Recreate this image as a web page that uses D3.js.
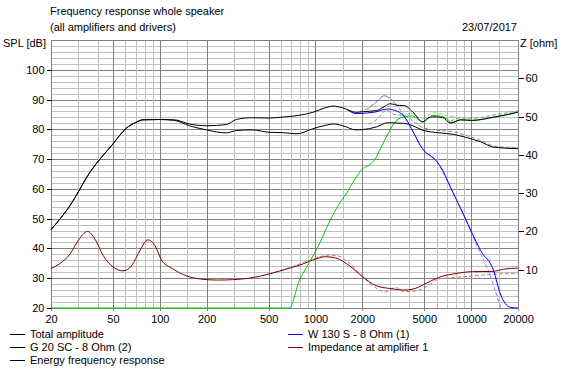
<!DOCTYPE html>
<html>
<head>
<meta charset="utf-8">
<script src="https://cdn.jsdelivr.net/npm/d3@7"></script>
<style>
  body { margin: 0; background: #fff; }
  text { font-family: "Liberation Sans", Arial, sans-serif; font-size: 11px; fill: #000; }
</style>
</head>
<body>
<div id="chart"></div>
<script>

// ticks
var freqTicks = [20, 50, 100, 200, 500, 1000, 2000, 5000, 10000, 20000];
var freqMinor = [30, 40, 60, 70, 80, 90, 150, 300, 400, 600, 700, 800, 900,
                 1500, 3000, 4000, 6000, 7000, 8000, 9000, 15000];
var splTicks = [20, 30, 40, 50, 60, 70, 80, 90, 100];
var zTicks = [10, 20, 30, 40, 50, 60];

// [Hz, dB]
var totalAmp = [[20,46.3],[26.5,54.4],[35.6,65.6],[50,75.1],[61,80.4],[70,82.3],[78,83.2],[100,83.3],
  [124,83.2],[155,81.8],[200,81.2],[267,81.6],[310,83.3],[393,83.9],[505,83.8],[610,84.1],[760,84.6],
  [962,85.7],[1150,87.2],[1300,87.8],[1500,87.2],[1826,85.7],[2000,85.9],[2460,86.3],[2800,87.8],
  [3000,88.6],[3470,88.0],[3690,88.0],[4210,85.9],[4880,82.5],[5300,83.8],[5660,84.2],[6560,84.0],
  [7370,82.1],[8560,83.2],[10100,83.0],[14000,84.1],[19700,85.7],[20000,85.8]];

var energyResp = [[20,46.3],[26.5,54.4],[35.6,65.6],[50,75.1],[61,80.4],[70,82.3],[78,83.2],[100,83.3],
  [124,83.0],[155,81.2],[200,79.8],[267,78.8],[310,79.6],[393,79.8],[505,79.0],[610,78.9],[760,78.5],
  [962,80.2],[1150,81.3],[1300,81.8],[1500,81.2],[1826,79.8],[2000,79.9],[2460,80.8],[2900,82.2],
  [3690,82.0],[4230,81.2],[4880,79.7],[6300,78.8],[7700,78.3],[9250,77.3],[11500,75.8],[14000,74.0],
  [20000,73.5]];

var woofer = [[1600,86.6],[1826,85.3],[2410,85.8],[2890,86.8],[3350,86.1],[3800,83.6],[4230,79.2],
  [4880,73.4],[5500,71.0],[5880,69.8],[6600,66.0],[7300,61.0],[9000,51.0],[11500,39.3],[14000,32.3],
  [15300,25.2],[17900,20.2],[20000,20]];

var tweeter = [[20,20],[680,20],[787,29.2],[913,35.3],[1058,41.5],[1226,48.8],[1420,55.0],[1600,58.9],
  [1770,62.8],[2000,66.7],[2270,68.4],[2450,70.5],[2610,73.5],[2890,78.0],[3200,82.0],[3690,84.2],
  [4220,84.5],[4880,82.5],[5700,84.7],[7000,83.6],[7400,82.3],[8560,83.2],[10100,83.0],[14000,84.1],
  [20000,85.8]];

// [Hz, ohm]
var impedance = [[20,10.3],[22.8,11.6],[26.5,14.1],[29.9,17.6],[34.3,20.0],[38.3,18.0],[43.3,13.7],
  [50.6,10.6],[58.1,9.7],[65.8,11.0],[74.5,15.0],[83.8,17.8],[93,16.3],[102.6,12.5],[121.6,10.2],
  [148,8.4],[180,7.6],[231,7.3],[294,7.4],[377,7.8],[506,8.9],[680,10.4],[830,11.5],[1000,12.8],
  [1170,13.4],[1350,13.05],[1660,11.0],[2000,8.2],[2460,5.8],[3000,5.1],[3800,4.7],[4570,5.4],
  [5000,6.2],[5600,7.2],[6200,8.0],[8000,9.0],[10200,9.5],[13650,9.55],[16500,10.2],[19800,10.4],
  [20000,10.4]];

// previous simulation (dashed)
var prevUpper = [[1900,85.9],[2150,87.0],[2500,89.5],[2740,91.3],[3000,90.6],[3350,88.1],[3700,88.0]];
var prevLower = [[2200,81.6],[2500,83.5],[2850,86.4],[3200,85.0],[3700,84.7],[4300,82.5],[4880,80.6],
  [6300,79.6],[7700,79.2],[9250,78.0],[11500,76.3],[14000,74.4],[20000,73.8]];
var prevTotalHi = [[7400,82.8],[8560,83.8],[10100,83.7],[14000,84.8],[20000,86.2]];
var prevWoofer = [[2150,86.5],[2500,89.5],[2750,91.2],[3000,90.5],[3350,88.0],[3700,84.5],[4200,79.6],
  [4880,73.4],[5880,69.8],[7300,61.0],[9000,51.0],[11000,40.5],[13000,32.0],[15500,20]];
var prevTweeter = [[3300,82.8],[3700,85.0],[4200,85.3],[4880,83.6],[5700,85.6],[7000,84.6],[8000,84.2]];
var prevImpedance = [[500,8.9],[700,10.7],[1000,13.0],[1200,13.8],[1400,13.6],[1700,11.2],[2000,8.3],
  [2500,5.0],[2800,4.2],[3300,5.4],[3600,4.4],[4000,4.3],[4570,4.6],[5200,5.6],[6200,7.6],[8000,8.0],
  [10200,8.4],[13650,8.8],[20000,9.1]];


var W = 563, H = 371;
var pLeft = 51, pRight = 518, pTop = 40, pBottom = 308;

var svg = d3.select("#chart").append("svg")
    .attr("width", W)
    .attr("height", H);

var x = d3.scaleLog().domain([20, 20000]).range([pLeft, pRight]);
var y = d3.scaleLinear().domain([20, 110]).range([pBottom, pTop]).clamp(true);
var z = d3.scaleLinear().domain([0, 70]).range([pBottom, pTop]).clamp(true);

// ****************** grid ***************************
var grid = svg.append("g").attr("shape-rendering", "crispEdges");

d3.range(22, 110, 2).forEach(function(v){
  grid.append("line")
      .attr("x1", pLeft).attr("x2", pRight)
      .attr("y1", Math.round(y(v)) + 0.5).attr("y2", Math.round(y(v)) + 0.5)
      .attr("stroke", v % 10 == 0 ? "#808080" : "#c0c0c0");
});

freqMinor.forEach(function(f){
  grid.append("line")
      .attr("x1", Math.round(x(f)) + 0.5).attr("x2", Math.round(x(f)) + 0.5)
      .attr("y1", pTop).attr("y2", pBottom)
      .attr("stroke", "#c0c0c0");
});

freqTicks.forEach(function(f){
  grid.append("line")
      .attr("x1", Math.round(x(f)) + 0.5).attr("x2", Math.round(x(f)) + 0.5)
      .attr("y1", pTop).attr("y2", pBottom + 3)
      .attr("stroke", "#808080");
});

grid.append("rect")
    .attr("x", pLeft + 0.5).attr("y", pTop + 0.5)
    .attr("width", pRight - pLeft).attr("height", pBottom - pTop)
    .attr("fill", "none").attr("stroke", "#808080");

// ****************** axes ***************************
var axL = svg.append("g")
    .attr("transform", "translate(" + (pLeft + 0.5) + ",0)")
    .call(d3.axisLeft(y).tickValues(splTicks).tickSize(5).tickPadding(2));
var axR = svg.append("g")
    .attr("transform", "translate(" + (pRight + 0.5) + ",0)")
    .call(d3.axisRight(z).tickValues(zTicks).tickSize(5).tickPadding(2));
var axB = svg.append("g")
    .attr("transform", "translate(0," + (pBottom + 0.5) + ")")
    .call(d3.axisBottom(x).tickValues(freqTicks).tickFormat(d3.format("d")).tickSize(0).tickPadding(8));

[axL, axR, axB].forEach(function(a){
  a.attr("font-size", null).attr("font-family", null);
  a.select(".domain").remove();
  a.selectAll("line").attr("stroke", "#000").attr("shape-rendering", "crispEdges");
  a.selectAll("text").attr("fill", "#000");
});
axB.selectAll("text").attr("dy", "0.6em");

// ****************** curves ***************************
var lineDb = d3.line().curve(d3.curveMonotoneX)
    .x(function(d){ return x(d[0]); }).y(function(d){ return y(d[1]); });
var lineZ = d3.line().curve(d3.curveMonotoneX)
    .x(function(d){ return x(d[0]); }).y(function(d){ return z(d[1]); });

var plot = svg.append("g");

function curve(data, gen, col, dash){
  plot.append("path")
      .attr("d", gen(data))
      .attr("fill", "none")
      .attr("stroke", col)
      .attr("stroke-width", 1)
      .attr("stroke-dasharray", dash ? "4,2" : null);
}

curve(prevImpedance, lineZ, "#c08080", true);
curve(prevUpper, lineDb, "#909090", true);
curve(prevLower, lineDb, "#909090", true);
curve(prevTotalHi, lineDb, "#909090", true);
curve(prevWoofer, lineDb, "#8080ff", true);
curve(prevTweeter, lineDb, "#80e080", true);

curve(impedance, lineZ, "#800000", false);
curve(tweeter, lineDb, "#00c800", false);
curve(woofer, lineDb, "#0000ff", false);
curve(energyResp, lineDb, "#000", false);
curve(totalAmp, lineDb, "#000", false);

// ****************** texts ***************************
svg.append("text").attr("x", 50).attr("y", 15).text("Frequency response whole speaker");
svg.append("text").attr("x", 50).attr("y", 31).text("(all amplifiers and drivers)");
svg.append("text").attr("x", 517).attr("y", 31).attr("text-anchor", "end").text("23/07/2017");
svg.append("text").attr("x", 3).attr("y", 47).text("SPL [dB]");
svg.append("text").attr("x", 520).attr("y", 47).text("Z [ohm]");

// legend
var legend = [
  {label: "Total amplitude", col: "#000", lx: 10, row: 0},
  {label: "G 20 SC - 8 Ohm (2)", col: "#000", lx: 10, row: 1},
  {label: "Energy frequency response", col: "#000", lx: 10, row: 2},
  {label: "W 130 S - 8 Ohm (1)", col: "#0000ff", lx: 288, row: 0},
  {label: "Impedance at amplifier 1", col: "#800000", lx: 288, row: 1}
];

legend.forEach(function(d){
  var by = 338 + d.row * 13;
  svg.append("line")
      .attr("x1", d.lx).attr("x2", d.lx + 15)
      .attr("y1", by - 4).attr("y2", by - 4)
      .attr("stroke", d.col)
      .attr("shape-rendering", "crispEdges");
  svg.append("text").attr("x", d.lx + 20).attr("y", by).text(d.label);
});

</script>
</body>
</html>
